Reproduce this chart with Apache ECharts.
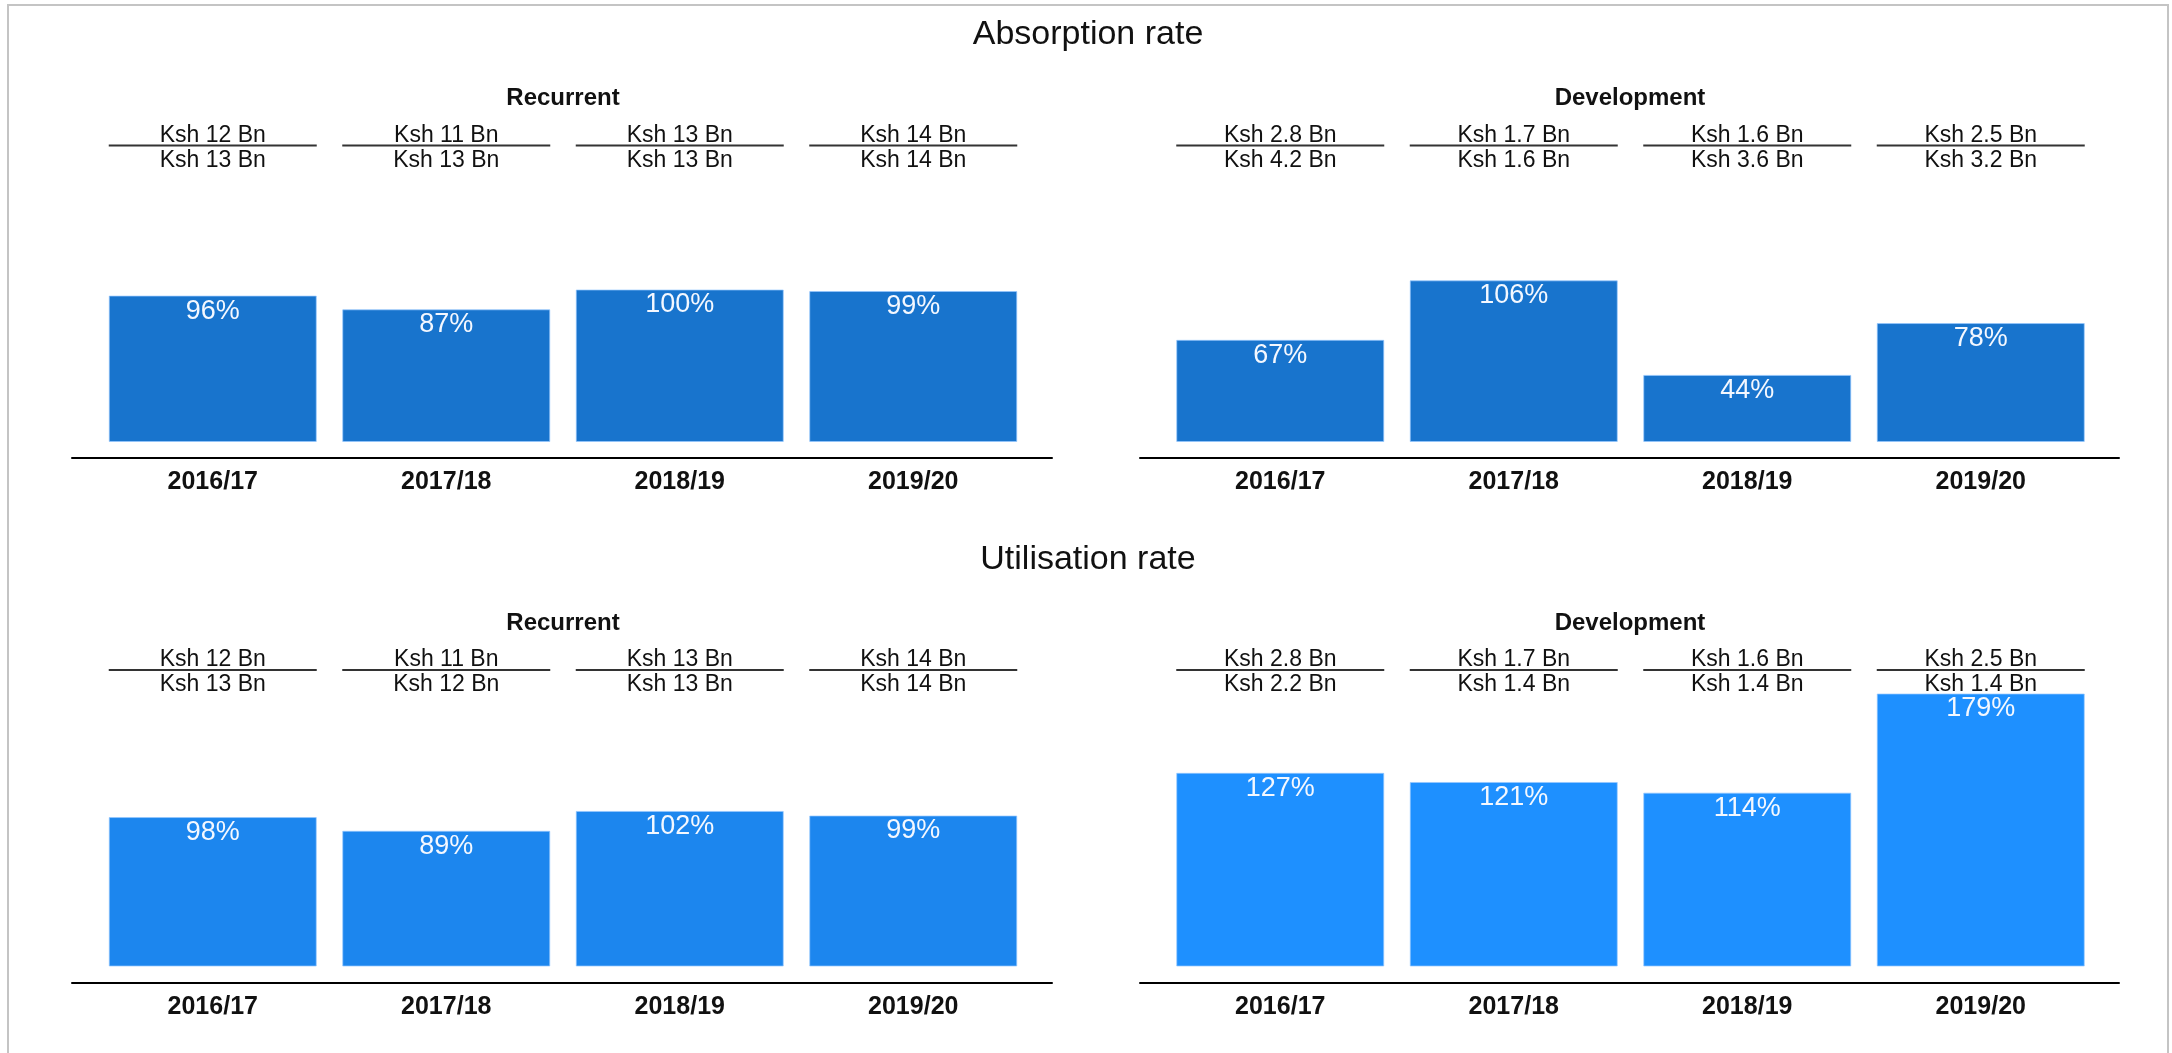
<!DOCTYPE html>
<html>
<head>
<meta charset="utf-8">
<script src="https://cdn.jsdelivr.net/npm/echarts@6/dist/echarts.min.js"></script>
<style>
html,body{margin:0;padding:0;background:#fff;}
#chart{width:2172px;height:1053px;}
</style>
</head>
<body>
<div id="chart"></div>
<script>
// ---- data ----
const categories = ['2016/17', '2017/18', '2018/19', '2019/20'];

const absorptionRecurrent = [96, 87, 100, 99];
const absorptionDevelopment = [67, 106, 44, 78];
const utilisationRecurrent = [98, 89, 102, 99];
const utilisationDevelopment = [127, 121, 114, 179];

const absRecTop = ['Ksh 12 Bn', 'Ksh 11 Bn', 'Ksh 13 Bn', 'Ksh 14 Bn'];
const absRecBottom = ['Ksh 13 Bn', 'Ksh 13 Bn', 'Ksh 13 Bn', 'Ksh 14 Bn'];
const absDevTop = ['Ksh 2.8 Bn', 'Ksh 1.7 Bn', 'Ksh 1.6 Bn', 'Ksh 2.5 Bn'];
const absDevBottom = ['Ksh 4.2 Bn', 'Ksh 1.6 Bn', 'Ksh 3.6 Bn', 'Ksh 3.2 Bn'];
const utilRecTop = ['Ksh 12 Bn', 'Ksh 11 Bn', 'Ksh 13 Bn', 'Ksh 14 Bn'];
const utilRecBottom = ['Ksh 13 Bn', 'Ksh 12 Bn', 'Ksh 13 Bn', 'Ksh 14 Bn'];
const utilDevTop = ['Ksh 2.8 Bn', 'Ksh 1.7 Bn', 'Ksh 1.6 Bn', 'Ksh 2.5 Bn'];
const utilDevBottom = ['Ksh 2.2 Bn', 'Ksh 1.4 Bn', 'Ksh 1.4 Bn', 'Ksh 1.4 Bn'];

// ---- layout / style ----
const FONT = '"Liberation Sans", Arial, Helvetica, sans-serif';
const panels = [
  {vals: absorptionRecurrent, top: absRecTop, bottom: absRecBottom, color: '#1874CD', left: 96, lineLeft: 72, lineW: 980, gtop: 137},
  {vals: absorptionDevelopment, top: absDevTop, bottom: absDevBottom, color: '#1874CD', left: 1163.5, lineLeft: 1140, lineW: 979, gtop: 137},
  {vals: utilisationRecurrent, top: utilRecTop, bottom: utilRecBottom, color: '#1C86EE', left: 96, lineLeft: 72, lineW: 980, gtop: 661.5},
  {vals: utilisationDevelopment, top: utilDevTop, bottom: utilDevBottom, color: '#1E90FF', left: 1163.5, lineLeft: 1140, lineW: 979, gtop: 661.5}
];
const GH = 305;   // bar grid height (value 0..200)
const BAND_W = 934;

const grid = [], xAxis = [], yAxis = [], series = [];
panels.forEach((p, i) => {
  grid.push({left: p.left, top: p.gtop, width: BAND_W, height: GH, containLabel: false});
  xAxis.push({
    type: 'category', gridIndex: i, data: categories,
    axisLine: {show: false}, axisTick: {show: false},
    axisLabel: {margin: 28, fontSize: 25, fontWeight: 'bold', color: '#111', fontFamily: FONT}
  });
  yAxis.push({type: 'value', gridIndex: i, min: 0, max: 200, show: false});
  series.push({
    type: 'bar', xAxisIndex: i, yAxisIndex: i, data: p.vals, barWidth: 208,
    itemStyle: {color: p.color, borderColor: 'rgba(150,200,255,0.7)', borderWidth: 1},
    label: {show: true, position: 'insideTop', distance: 2, formatter: '{c}%',
            color: '#f4f8ff', fontSize: 27, fontFamily: FONT},
    silent: true
  });
  const tops = p.top, bots = p.bottom;
  series.push({
    type: 'custom', xAxisIndex: i, yAxisIndex: i, z: 5, clip: false, silent: true,
    data: categories.map((c, k) => [k, 0]),
    encode: {x: 0, y: 1},
    renderItem: function (params, api) {
      const idx = params.dataIndex;
      const cx = api.coord([api.value(0), 0])[0];
      const bw = api.size([1, 0])[0] * (208 / 233.5);
      const cs = params.coordSys;
      const uy = cs.y + 8.5;
      return {
        type: 'group',
        children: [
          {type: 'text', style: {text: tops[idx], x: cx, y: uy - 10, align: 'center', verticalAlign: 'middle',
            fill: '#111', font: 'normal 23px ' + FONT}},
          {type: 'line', shape: {x1: cx - bw / 2, y1: uy, x2: cx + bw / 2, y2: uy},
            style: {stroke: '#333', lineWidth: 2}},
          {type: 'text', style: {text: bots[idx], x: cx, y: uy + 15, align: 'center', verticalAlign: 'middle',
            fill: '#111', font: 'normal 23px ' + FONT}}
        ]
      };
    }
  });
});
// axis-line grids (the baseline extends beyond the bars)
panels.forEach((p, i) => {
  const gi = 4 + i;
  const bottomY = p.gtop + GH + 16;
  grid.push({left: p.lineLeft, top: bottomY - 60, width: p.lineW, height: 60});
  xAxis.push({
    type: 'category', gridIndex: gi, data: categories,
    axisLine: {show: true, onZero: false, lineStyle: {color: '#000', width: 2}},
    axisTick: {show: false}, axisLabel: {show: false}, splitLine: {show: false}
  });
  yAxis.push({type: 'value', gridIndex: gi, show: false, min: 0, max: 1});
});

const titles = [
  {text: 'Absorption rate', left: 1088, top: 18, textAlign: 'center', padding: 0,
   textStyle: {fontSize: 34, fontWeight: 'normal', color: '#111', fontFamily: FONT}},
  {text: 'Utilisation rate', left: 1088, top: 543, textAlign: 'center', padding: 0,
   textStyle: {fontSize: 34, fontWeight: 'normal', color: '#111', fontFamily: FONT}},
  {text: 'Recurrent', left: 563, top: 86.5, textAlign: 'center', padding: 0,
   textStyle: {fontSize: 24, fontWeight: 'bold', color: '#111', fontFamily: FONT}},
  {text: 'Development', left: 1630, top: 86.5, textAlign: 'center', padding: 0,
   textStyle: {fontSize: 24, fontWeight: 'bold', color: '#111', fontFamily: FONT}},
  {text: 'Recurrent', left: 563, top: 611, textAlign: 'center', padding: 0,
   textStyle: {fontSize: 24, fontWeight: 'bold', color: '#111', fontFamily: FONT}},
  {text: 'Development', left: 1630, top: 611, textAlign: 'center', padding: 0,
   textStyle: {fontSize: 24, fontWeight: 'bold', color: '#111', fontFamily: FONT}}
];

const chart = echarts.init(document.getElementById('chart'), null, {renderer: 'canvas'});
chart.setOption({
  backgroundColor: '#fff',
  animation: false,
  title: titles,
  graphic: [{
    type: 'rect', silent: true, z: 0,
    shape: {x: 8, y: 5, width: 2160, height: 1100},
    style: {fill: 'none', stroke: '#c4c4c4', lineWidth: 2}
  }],
  grid: grid,
  xAxis: xAxis,
  yAxis: yAxis,
  series: series
});
</script>
</body>
</html>
